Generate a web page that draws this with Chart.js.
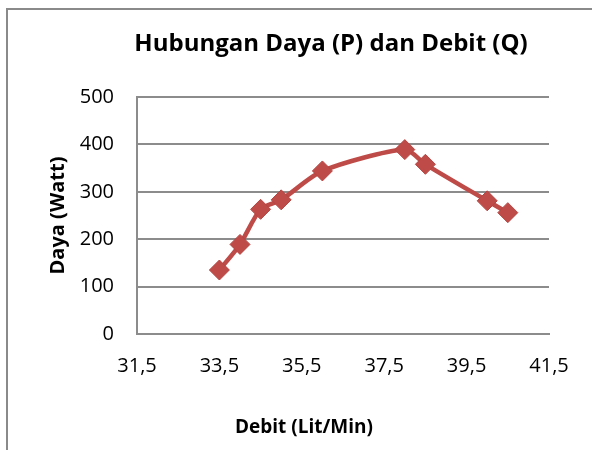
<!DOCTYPE html>
<html>
<head>
<meta charset="utf-8">
<script src="https://cdn.jsdelivr.net/npm/chart.js@4.4.0/dist/chart.umd.min.js"></script>
<style>
    html, body { margin: 0; padding: 0; background: #fff; }
    #wrap { position: relative; width: 592px; height: 450px; overflow: hidden; }
    #frame { position: absolute; left: 6px; top: 8px; width: 700px; height: 600px;
             border-left: 2px solid #8a8a8a; border-top: 2px solid #8a8a8a; }
    canvas { position: absolute; left: 0; top: 0; }
</style>
</head>
<body>
<div id="wrap">
    <div id="frame"></div>
    <canvas id="chart" width="592" height="450"></canvas>
</div>
<script>
// data
const debit = [33.5, 34.0, 34.5, 35.0, 36.0, 38.0, 38.5, 40.0, 40.5];
const daya = [135, 189, 263, 283, 344, 389, 358, 281, 256];
const xTicks = [31.5, 33.5, 35.5, 37.5, 39.5, 41.5];
const yTicks = [0, 100, 200, 300, 400, 500];

const chartTitle = 'Hubungan Daya (P) dan Debit (Q)';
const xTitle = 'Debit (Lit/Min)';
const yTitle = 'Daya (Watt)';

const lineColor = '#BE4B48';
const gridColor = '#8c8c8c';
const fontFamily = '"Open Sans", "DejaVu Sans", sans-serif';

// Excel places the chart title and x title a bit off the plot centre
const excelTitles = {
    id: 'excelTitles',
    afterDraw(chart) {
        const ctx = chart.ctx;
        ctx.save();
        ctx.fillStyle = '#000';
        ctx.textAlign = 'center';
        ctx.textBaseline = 'middle';
        ctx.font = 'bold 24px ' + fontFamily;
        ctx.fillText(chartTitle, 331, 44);
        ctx.font = 'bold 19px ' + fontFamily;
        ctx.fillText(xTitle, 304, 428);
        ctx.restore();
    }
};

const ctx = document.getElementById('chart').getContext('2d');
new Chart(ctx, {
    type: 'line',
    data: {
        datasets: [{
            label: 'Daya',
            data: debit.map((x, i) => ({ x: x, y: daya[i] })),
            borderColor: lineColor,
            borderWidth: 4.5,
            tension: 0.25,
            pointStyle: 'rectRot',
            pointRadius: 10,
            pointBackgroundColor: lineColor,
            pointBorderColor: '#B44542',
            pointBorderWidth: 1
        }]
    },
    options: {
        responsive: false,
        animation: false,
        layout: { padding: { left: 8, right: 43, top: 97, bottom: 0 } },
        scales: {
            x: {
                type: 'linear',
                min: 31.5,
                max: 41.5,
                afterBuildTicks: scale => { scale.ticks = xTicks.map(v => ({ value: v })); },
                afterFit: scale => { scale.height = 116; },
                ticks: {
                    color: '#000',
                    padding: 12,
                    maxRotation: 0,
                    font: { family: fontFamily, size: 20 },
                    callback: v => v.toFixed(1).replace('.', ',')
                },
                grid: { display: false },
                border: { display: true, color: gridColor, width: 2 }
            },
            y: {
                min: 0,
                max: 500,
                afterBuildTicks: scale => { scale.ticks = yTicks.map(v => ({ value: v })); },
                afterFit: scale => { scale.width = 129; },
                ticks: {
                    color: '#000',
                    padding: 23,
                    font: { family: fontFamily, size: 20 }
                },
                grid: { color: gridColor, lineWidth: 2, drawTicks: false },
                border: { display: true, color: gridColor, width: 2 },
                title: {
                    display: true,
                    text: yTitle,
                    color: '#000',
                    padding: { top: 38, bottom: 0 },
                    font: { family: fontFamily, size: 20, weight: 'bold' }
                }
            }
        },
        plugins: {
            legend: { display: false },
            tooltip: { enabled: false }
        }
    },
    plugins: [excelTitles]
});
</script>
</body>
</html>
